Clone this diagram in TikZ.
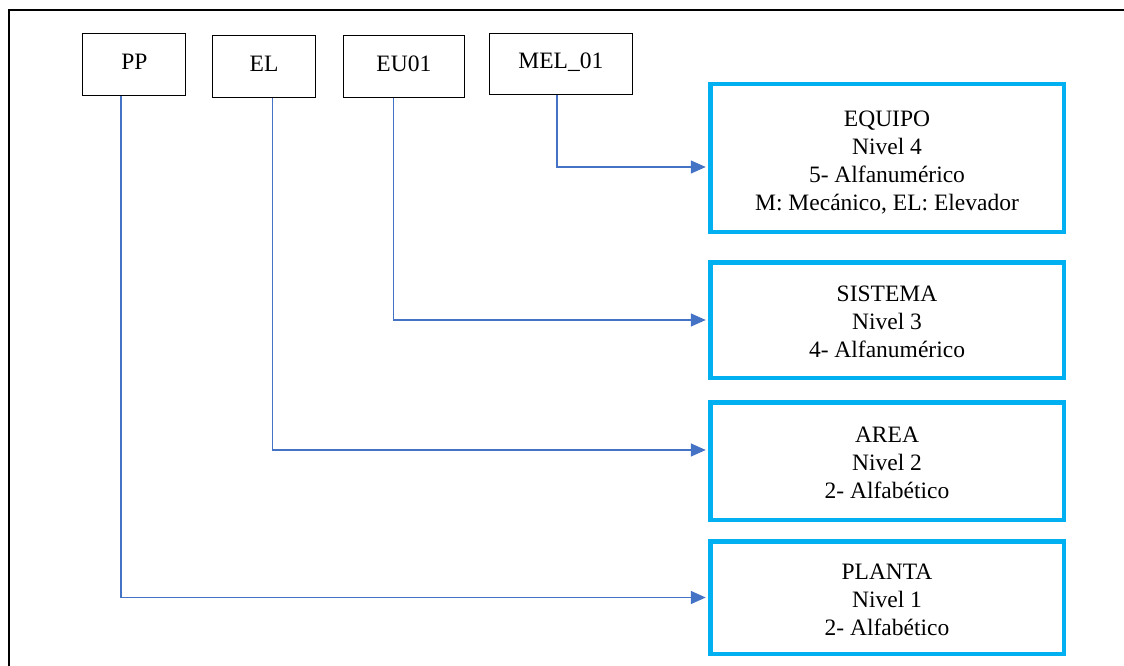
\documentclass[tikz,border=0pt]{standalone}
\usepackage{fontspec}
\setmainfont{Liberation Serif}
\usetikzlibrary{arrows.meta}
\definecolor{framecyan}{HTML}{00B0F0}
\definecolor{linkblue}{HTML}{4472C4}
\tikzset{
  codebox/.style={draw=black, line width=1pt, inner sep=0pt, fill=white,
    text height=15.6pt, text depth=6pt,
    font=\fontsize{23.5}{28}\selectfont},
  levelbox/.style={draw=framecyan, line width=4.5pt, inner sep=0pt, align=center,
    minimum width=353.5pt, font=\fontsize{23.5}{28}\selectfont},
  conn/.style={draw=linkblue, line width=1.5pt,
    -{Triangle[length=15pt,width=13pt]}},
}
\begin{document}
\begin{tikzpicture}[x=1pt, y=-1pt]
\useasboundingbox (0,0) rectangle (1124,666);
% outer frame (top and left edges)
\draw[line width=2pt] (8.5,667) -- (8.5,10.5) -- (1125,10.5);

% code segments
\node[codebox, minimum width=103pt, minimum height=62pt] (pp) at (134.4,64.5) {PP};
\node[codebox, minimum width=103pt, minimum height=62pt] (el) at (264,66.5) {EL};
\node[codebox, minimum width=121.5pt, minimum height=62pt] (eu) at (403.9,66.5) {EU01};
\node[codebox, minimum width=142.5pt, minimum height=61.5pt] (mel) at (560.9,64) {MEL\_01};

% hierarchy levels (the struts set the first line a little lower)
\node[levelbox, minimum height=147.5pt] (equipo) at (887,158)
  {\rule{0pt}{24pt}EQUIPO\\Nivel 4\\5- Alfanumérico\\M: Mecánico, EL: Elevador};
\node[levelbox, minimum height=115.5pt] (sistema) at (887,320)
  {\rule{0pt}{20pt}SISTEMA\\Nivel 3\\4- Alfanumérico};
\node[levelbox, minimum height=117.5pt] (area) at (887,461)
  {\rule{0pt}{19pt}AREA\\Nivel 2\\2- Alfabético};
\node[levelbox, minimum height=112.5pt] (planta) at (887,597.5)
  {\rule{0pt}{21pt}PLANTA\\Nivel 1\\2- Alfabético};

% connectors
\draw[conn] ([xshift=-13.4pt]pp.south) |- ([xshift=-2.25pt]planta.west);
\draw[conn] ([xshift=8.7pt]el.south) |- ([xshift=-2.25pt,yshift=11pt]area.west);
\draw[conn] ([xshift=-10.2pt]eu.south) |- ([xshift=-2.25pt]sistema.west);
\draw[conn] ([xshift=-3.9pt]mel.south) |- ([xshift=-2.25pt,yshift=-9pt]equipo.west);
\end{tikzpicture}
\end{document}
